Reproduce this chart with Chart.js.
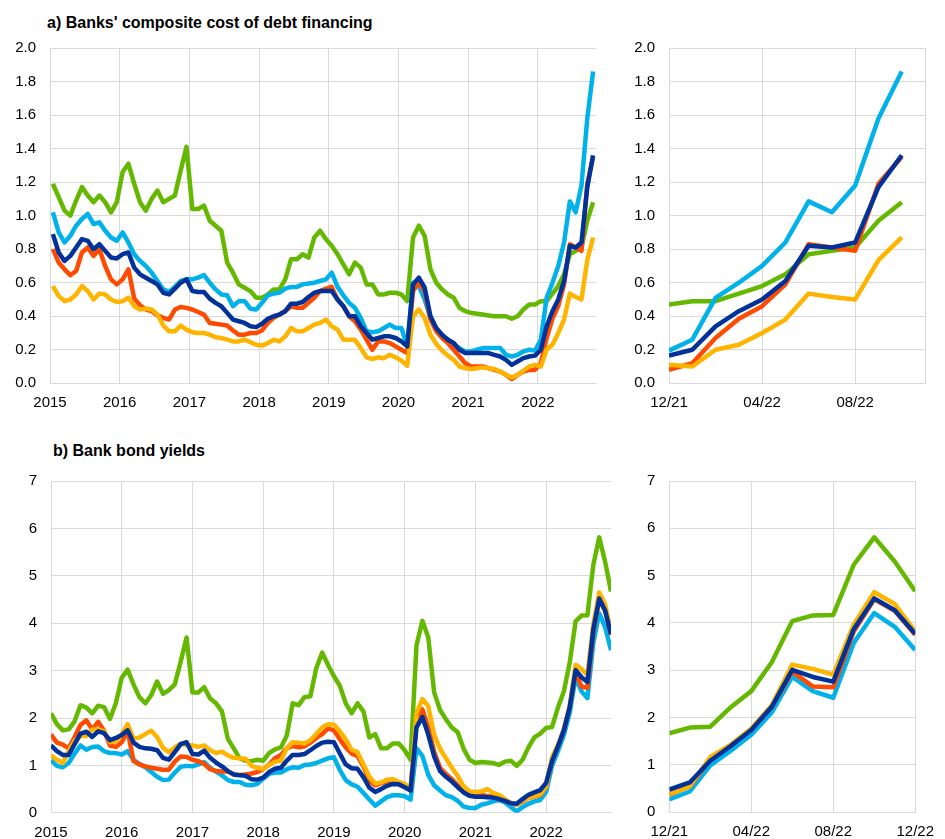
<!DOCTYPE html>
<html>
<head>
<meta charset="utf-8">
<script src="https://cdn.jsdelivr.net/npm/chart.js@4.4.0/dist/chart.umd.min.js"></script>
<style>
  body { margin: 0; background: #fff; width: 945px; height: 839px; position: relative; overflow: hidden;
         font-family: "Liberation Sans", Arial, sans-serif; }
  .title { position: absolute; font-weight: bold; font-size: 16px; line-height: 18px; color: #000; white-space: nowrap; }
  canvas { position: absolute; }
</style>
</head>
<body>
<div class="title" style="left:47px; top:14px;">a) Banks' composite cost of debt financing</div>
<div class="title" style="left:53px; top:442px;">b) Bank bond yields</div>
<canvas id="cA"></canvas>
<canvas id="cB"></canvas>
<canvas id="cC"></canvas>
<canvas id="cD"></canvas>
<script>
// tick labels
const yearLabels = ['2015', '2016', '2017', '2018', '2019', '2020', '2021', '2022'];
const zoomLabels = ['12/21', '04/22', '08/22', '12/22'];

// a) composite cost of debt financing, monthly Jan 2015 - Oct 2022 (percentages)
const costDarkBlue = [
  0.89, 0.78, 0.73, 0.76, 0.81, 0.86, 0.85, 0.80, 0.83, 0.79, 0.75, 0.745,
  0.77, 0.78, 0.69, 0.65, 0.63, 0.61, 0.59, 0.54, 0.53, 0.565, 0.60, 0.62,
  0.55, 0.545, 0.545, 0.505, 0.48, 0.46, 0.42, 0.38, 0.37, 0.36, 0.34, 0.335,
  0.355, 0.385, 0.40, 0.41, 0.43, 0.475, 0.475, 0.485, 0.515, 0.54, 0.55, 0.55,
  0.55, 0.50, 0.46, 0.40, 0.40, 0.34, 0.30, 0.26, 0.27, 0.28, 0.28, 0.27,
  0.25, 0.22, 0.59, 0.63, 0.57, 0.40, 0.33, 0.29, 0.26, 0.24, 0.20, 0.18,
  0.18, 0.18, 0.18, 0.18, 0.17, 0.16, 0.14, 0.11, 0.13, 0.15, 0.16, 0.165,
  0.20, 0.34, 0.43, 0.50, 0.61, 0.82, 0.81, 0.84, 1.17, 1.36];
const costOrange = [
  0.80, 0.72, 0.68, 0.645, 0.67, 0.78, 0.81, 0.76, 0.80, 0.70, 0.62, 0.59,
  0.62, 0.68, 0.505, 0.465, 0.44, 0.43, 0.405, 0.39, 0.38, 0.44, 0.455, 0.45,
  0.44, 0.425, 0.41, 0.36, 0.355, 0.35, 0.345, 0.315, 0.29, 0.29, 0.30, 0.30,
  0.315, 0.36, 0.39, 0.41, 0.43, 0.46, 0.45, 0.45, 0.48, 0.51, 0.55, 0.565,
  0.575, 0.50, 0.46, 0.40, 0.37, 0.32, 0.26, 0.20, 0.25, 0.25, 0.24, 0.22,
  0.20, 0.18, 0.55, 0.60, 0.55, 0.38, 0.31, 0.27, 0.24, 0.20, 0.16, 0.12,
  0.10, 0.10, 0.10, 0.09, 0.08, 0.07, 0.05, 0.025, 0.05, 0.07, 0.08, 0.08,
  0.12, 0.27, 0.385, 0.46, 0.59, 0.83, 0.81, 0.79, 1.19, 1.35];
const costYellow = [
  0.58, 0.52, 0.49, 0.50, 0.53, 0.58, 0.55, 0.50, 0.535, 0.53, 0.50, 0.485,
  0.49, 0.51, 0.46, 0.44, 0.445, 0.44, 0.41, 0.345, 0.31, 0.31, 0.345, 0.32,
  0.305, 0.30, 0.30, 0.29, 0.275, 0.27, 0.26, 0.25, 0.25, 0.26, 0.245, 0.23,
  0.225, 0.24, 0.26, 0.25, 0.28, 0.33, 0.31, 0.31, 0.33, 0.35, 0.36, 0.38,
  0.34, 0.32, 0.26, 0.26, 0.26, 0.21, 0.155, 0.145, 0.155, 0.15, 0.17, 0.155,
  0.135, 0.105, 0.40, 0.44, 0.39, 0.29, 0.235, 0.195, 0.165, 0.14, 0.10, 0.09,
  0.085, 0.09, 0.095, 0.09, 0.085, 0.07, 0.05, 0.035, 0.05, 0.075, 0.10, 0.11,
  0.10, 0.20, 0.23, 0.30, 0.38, 0.535, 0.515, 0.50, 0.735, 0.87];
const costLightBlue = [
  1.02, 0.90, 0.84, 0.88, 0.94, 0.98, 1.01, 0.95, 0.96, 0.91, 0.87, 0.85,
  0.90, 0.84, 0.77, 0.73, 0.70, 0.66, 0.61, 0.56, 0.545, 0.575, 0.61, 0.62,
  0.62, 0.63, 0.645, 0.60, 0.56, 0.53, 0.525, 0.46, 0.49, 0.49, 0.445, 0.44,
  0.48, 0.525, 0.535, 0.54, 0.565, 0.575, 0.575, 0.59, 0.595, 0.60, 0.61, 0.62,
  0.66, 0.575, 0.525, 0.48, 0.45, 0.39, 0.31, 0.305, 0.31, 0.33, 0.35, 0.33,
  0.33, 0.22, 0.60, 0.58, 0.50, 0.39, 0.32, 0.28, 0.26, 0.23, 0.21, 0.19,
  0.19, 0.20, 0.21, 0.21, 0.21, 0.21, 0.17, 0.16, 0.17, 0.19, 0.20, 0.195,
  0.26, 0.51, 0.60, 0.70, 0.84, 1.085, 1.02, 1.18, 1.58, 1.86];
const costGreen = [
  1.19, 1.11, 1.03, 1.00, 1.09, 1.17, 1.12, 1.08, 1.12, 1.08, 1.02, 1.08,
  1.26, 1.31, 1.19, 1.08, 1.03, 1.10, 1.15, 1.08, 1.10, 1.12, 1.27, 1.41,
  1.04, 1.04, 1.06, 0.97, 0.94, 0.91, 0.72, 0.66, 0.59, 0.57, 0.55, 0.51,
  0.51, 0.53, 0.56, 0.56, 0.62, 0.74, 0.74, 0.77, 0.75, 0.87, 0.91, 0.86,
  0.82, 0.77, 0.71, 0.65, 0.72, 0.69, 0.59, 0.59, 0.53, 0.53, 0.54, 0.54,
  0.53, 0.49, 0.87, 0.94, 0.88, 0.68, 0.60, 0.56, 0.53, 0.51, 0.45, 0.43,
  0.42, 0.415, 0.41, 0.405, 0.40, 0.40, 0.40, 0.385, 0.40, 0.44, 0.47, 0.47,
  0.49, 0.49, 0.535, 0.58, 0.65, 0.77, 0.79, 0.81, 0.97, 1.08];

// b) bank bond yields, monthly Jan 2015 - Dec 2022 (percentages)
const yieldDarkBlue = [
  1.42, 1.30, 1.22, 1.22, 1.45, 1.67, 1.71, 1.60, 1.72, 1.68, 1.53, 1.58,
  1.64, 1.74, 1.48, 1.39, 1.36, 1.35, 1.32, 1.16, 1.12, 1.28, 1.45, 1.49,
  1.24, 1.23, 1.31, 1.16, 1.06, 0.98, 0.88, 0.81, 0.79, 0.78, 0.71, 0.70,
  0.74, 0.86, 0.93, 0.95, 1.10, 1.22, 1.22, 1.24, 1.32, 1.41, 1.48, 1.50,
  1.49, 1.25, 1.02, 0.94, 0.93, 0.75, 0.53, 0.44, 0.50, 0.57, 0.61, 0.60,
  0.54, 0.47, 1.80, 2.02, 1.65, 1.19, 0.88, 0.76, 0.66, 0.54, 0.43, 0.36,
  0.34, 0.34, 0.33, 0.32, 0.29, 0.25, 0.20, 0.19, 0.29, 0.38, 0.43, 0.48,
  0.63, 1.09, 1.40, 1.74, 2.23, 3.01, 2.86, 2.76, 3.87, 4.52, 4.27, 3.77];
const yieldOrange = [
  1.65, 1.48, 1.44, 1.36, 1.60, 1.85, 1.95, 1.76, 1.92, 1.73, 1.42, 1.39,
  1.49, 1.73, 1.09, 1.02, 0.98, 0.95, 0.93, 0.91, 0.91, 1.08, 1.19, 1.18,
  1.12, 1.09, 1.03, 0.92, 0.88, 0.87, 0.87, 0.81, 0.80, 0.81, 0.83, 0.86,
  0.92, 1.02, 1.15, 1.22, 1.36, 1.41, 1.38, 1.40, 1.48, 1.58, 1.66, 1.78,
  1.74, 1.55, 1.38, 1.25, 1.20, 0.98, 0.67, 0.58, 0.62, 0.67, 0.69, 0.64,
  0.58, 0.48, 1.95, 2.18, 1.80, 1.29, 0.95, 0.82, 0.71, 0.58, 0.45, 0.36,
  0.36, 0.38, 0.35, 0.35, 0.30, 0.27, 0.21, 0.17, 0.24, 0.31, 0.34, 0.375,
  0.55, 1.12, 1.41, 1.75, 2.23, 2.97, 2.66, 2.64, 3.82, 4.50, 4.26, 3.75];
const yieldYellow = [
  1.21, 1.12, 1.05, 1.30, 1.52, 1.62, 1.62, 1.76, 1.76, 1.72, 1.49, 1.51,
  1.66, 1.87, 1.56, 1.59, 1.66, 1.73, 1.60, 1.37, 1.28, 1.38, 1.46, 1.43,
  1.42, 1.39, 1.42, 1.32, 1.26, 1.29, 1.21, 1.16, 1.15, 1.14, 0.99, 0.95,
  0.92, 1.01, 1.08, 1.10, 1.36, 1.49, 1.48, 1.46, 1.53, 1.66, 1.80, 1.87,
  1.86, 1.72, 1.55, 1.33, 1.28, 1.02, 0.76, 0.62, 0.64, 0.70, 0.71, 0.65,
  0.61, 0.51, 2.10, 2.40, 2.25, 1.65, 1.35, 1.15, 0.95, 0.78, 0.56, 0.45,
  0.44, 0.45, 0.50, 0.42, 0.38, 0.29, 0.21, 0.17, 0.26, 0.31, 0.35, 0.39,
  0.55, 1.17, 1.43, 1.77, 2.26, 3.12, 3.03, 2.91, 3.97, 4.65, 4.40, 3.82];
const yieldLightBlue = [
  1.11, 0.99, 0.96, 1.05, 1.25, 1.42, 1.33, 1.39, 1.40, 1.30, 1.26, 1.26,
  1.23, 1.30, 1.12, 1.03, 0.96, 0.86, 0.76, 0.69, 0.70, 0.85, 0.97, 0.99,
  0.98, 1.02, 1.07, 0.95, 0.87, 0.79, 0.69, 0.65, 0.65, 0.59, 0.58, 0.61,
  0.72, 0.82, 0.85, 0.85, 0.92, 0.96, 0.95, 1.01, 1.02, 1.05, 1.10, 1.15,
  1.17, 0.90, 0.69, 0.60, 0.55, 0.42, 0.28, 0.15, 0.24, 0.33, 0.37, 0.37,
  0.35, 0.28, 1.36, 1.20, 0.80, 0.58, 0.47, 0.37, 0.33, 0.25, 0.13, 0.10,
  0.10, 0.17, 0.20, 0.24, 0.27, 0.22, 0.12, 0.03, 0.12, 0.19, 0.24, 0.27,
  0.44, 0.99, 1.30, 1.64, 2.11, 2.86, 2.56, 2.42, 3.58, 4.21, 3.92, 3.43];
const yieldGreen = [
  2.10, 1.87, 1.74, 1.76, 1.93, 2.27, 2.22, 2.10, 2.26, 2.23, 1.98, 2.31,
  2.85, 3.02, 2.71, 2.44, 2.31, 2.48, 2.77, 2.51, 2.59, 2.71, 3.19, 3.70,
  2.54, 2.54, 2.65, 2.41, 2.31, 2.14, 1.56, 1.36, 1.15, 1.10, 1.09, 1.12,
  1.10, 1.26, 1.34, 1.38, 1.63, 2.31, 2.27, 2.44, 2.46, 3.05, 3.38, 3.12,
  2.88, 2.68, 2.31, 2.10, 2.31, 2.14, 1.59, 1.66, 1.36, 1.36, 1.46, 1.46,
  1.32, 1.12, 3.53, 4.05, 3.70, 2.54, 2.17, 1.97, 1.80, 1.70, 1.35, 1.12,
  1.05, 1.07, 1.06, 1.05, 1.01, 1.08, 1.10, 0.99, 1.12, 1.38, 1.59, 1.67,
  1.79, 1.81, 2.22, 2.56, 3.17, 4.04, 4.16, 4.17, 5.23, 5.81, 5.30, 4.67];

const zoomStart = 83; // Dec 2021

const darkBlue = '#003299', orange = '#FF4B00', yellow = '#FFB400', lightBlue = '#00B1EA', green = '#65B800';
const gridColor = '#d9d9d9';
const tickFont = { family: '"Liberation Sans", Arial, sans-serif', size: 15 };

function toPoints(values, offset) {
    return values.map((v, i) => ({ x: i + offset, y: v }));
}

function makeSets(series, offset) {
    // first entry is drawn on top
    return series.map(([values, color]) => ({
        data: toPoints(values, offset),
        borderColor: color,
        borderWidth: 4.5,
        pointRadius: 0,
        tension: 0,
        borderJoinStyle: 'round',
        fill: false
    }));
}

function panel(id, box, plot, xScale, yScale, datasets) {
    const el = document.getElementById(id);
    el.style.left = box.left + 'px';
    el.style.top = box.top + 'px';
    el.width = box.width;
    el.height = box.height;
    const yWidth = plot.left - box.left;
    const xHeight = box.top + box.height - plot.bottom;

    return new Chart(el, {
        type: 'line',
        data: { datasets: datasets },
        options: {
            responsive: false,
            animation: false,
            layout: { padding: { top: plot.top - box.top, right: box.left + box.width - plot.right, left: 0, bottom: 0 } },
            plugins: { legend: { display: false }, tooltip: { enabled: false } },
            scales: {
                x: Object.assign({
                    type: 'linear',
                    afterFit: s => { s.height = xHeight; },
                    grid: { color: gridColor, drawTicks: false },
                    border: { color: gridColor }
                }, xScale),
                y: Object.assign({
                    afterFit: s => { s.width = yWidth; },
                    grid: { color: gridColor, drawTicks: false },
                    border: { color: gridColor }
                }, yScale)
            }
        }
    });
}

const xTicks = (step, labels, bounds) => ({
    stepSize: step,
    includeBounds: bounds,
    autoSkip: false,
    maxRotation: 0,
    padding: 11,
    color: '#000',
    font: tickFont,
    callback: v => (labels[v / step] !== undefined ? labels[v / step] : '')
});

const costY = {
    min: 0, max: 2,
    ticks: { stepSize: 0.2, padding: 14, color: '#000', font: tickFont, callback: v => v.toFixed(1) }
};
const yieldY = {
    min: 0, max: 7,
    ticks: { stepSize: 1, padding: 14, color: '#000', font: tickFont, callback: v => String(v) }
};

const costSeries = [[costDarkBlue, darkBlue], [costYellow, yellow], [costOrange, orange], [costLightBlue, lightBlue], [costGreen, green]];
const yieldSeries = [[yieldDarkBlue, darkBlue], [yieldYellow, yellow], [yieldOrange, orange], [yieldLightBlue, lightBlue], [yieldGreen, green]];

// a) long history: monthly points sit between the tick marks
panel('cA',
    { left: 0, top: 25, width: 610, height: 400 },
    { left: 50, top: 41.7, right: 596, bottom: 383.3 },
    { min: 0, max: 94, ticks: xTicks(12, yearLabels, false) },
    costY,
    makeSets(costSeries, 0.5));

// a) recent months
panel('cB',
    { left: 615, top: 25, width: 330, height: 400 },
    { left: 669, top: 41.2, right: 925, bottom: 383.3 },
    { min: 0, max: 11, ticks: xTicks(4, zoomLabels.slice(0, 3), true) },
    costY,
    makeSets(costSeries.map(([v, c]) => [v.slice(zoomStart), c]), 0));

// b) long history
panel('cC',
    { left: 0, top: 458, width: 625, height: 381 },
    { left: 51, top: 469.3, right: 611, bottom: 812.8 },
    { min: 0, max: 95, ticks: xTicks(12, yearLabels, false) },
    yieldY,
    makeSets(yieldSeries, 0));

// b) recent months
panel('cD',
    { left: 615, top: 458, width: 330, height: 381 },
    { left: 669.3, top: 469.3, right: 924, bottom: 812.3 },
    { min: 0, max: 12, ticks: xTicks(4, zoomLabels, true) },
    yieldY,
    makeSets(yieldSeries.map(([v, c]) => [v.slice(zoomStart), c]), 0));
</script>
</body>
</html>
